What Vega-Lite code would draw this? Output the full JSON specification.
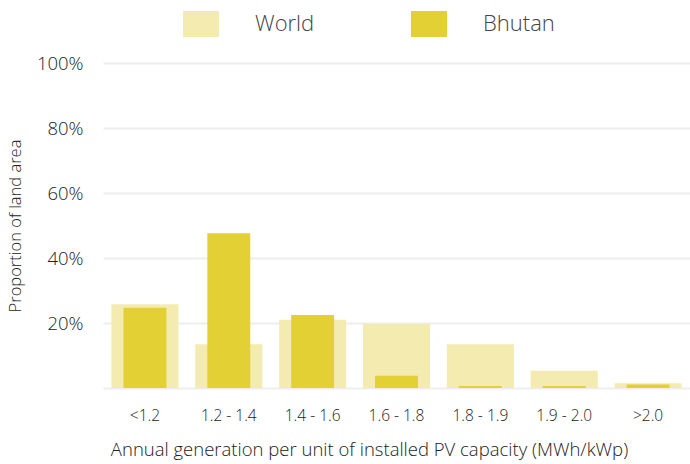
{
  "$schema": "https://vega.github.io/schema/vega-lite/v6.json",
  "autosize": "none",
  "width": 587,
  "height": 325,
  "padding": {"left": 103, "top": 63, "right": 0, "bottom": 76},
  "background": "white",
  "config": {
    "view": {"stroke": null},
    "font": "Open Sans",
    "axis": {"labelFont": "Open Sans", "titleFont": "Open Sans", "labelFontWeight": 300, "titleFontWeight": 300}
  },
  "data": {
    "values": [
      {"bin": "<1.2", "order": 1, "World": 25.8, "Bhutan": 24.7},
      {"bin": "1.2 - 1.4", "order": 2, "World": 13.5, "Bhutan": 47.6},
      {"bin": "1.4 - 1.6", "order": 3, "World": 21.0, "Bhutan": 22.5},
      {"bin": "1.6 - 1.8", "order": 4, "World": 19.8, "Bhutan": 3.8},
      {"bin": "1.8 - 1.9", "order": 5, "World": 13.5, "Bhutan": 0.6},
      {"bin": "1.9 - 2.0", "order": 6, "World": 5.3, "Bhutan": 0.6},
      {"bin": ">2.0", "order": 7, "World": 1.5, "Bhutan": 1.1}
    ]
  },
  "encoding": {
    "x": {
      "field": "bin", "type": "nominal", "sort": {"field": "order"},
      "scale": {"paddingInner": 0.2, "paddingOuter": 0.1},
      "axis": {
        "title": "Annual generation per unit of installed PV capacity (MWh/kWp)",
        "labelAngle": 0, "labelFontSize": 15.5, "labelColor": "#222", "labelPadding": 20,
        "titleFontSize": 18.5, "titleColor": "#222", "titlePadding": 17, "titleX": 266,
        "domain": false, "ticks": false, "grid": false
      }
    }
  },
  "layer": [
    {
      "mark": {"type": "bar", "width": {"band": 1}},
      "encoding": {
        "y": {
          "field": "World", "type": "quantitative",
          "scale": {"domain": [0, 100]},
          "axis": {
            "title": "Proportion of land area",
            "values": [0, 20, 40, 60, 80, 100],
            "labelExpr": "datum.value == 0 ? '' : datum.value + '%'",
            "labelFontSize": 18.5, "labelColor": "#222", "labelPadding": 20,
            "titleFontSize": 16.5, "titleColor": "#222", "titleX": -80,
            "domain": false, "ticks": false,
            "grid": true, "gridColor": "#eeeeee", "gridWidth": 2
          }
        },
        "color": {"datum": "World", "type": "nominal",
          "scale": {"domain": ["World", "Bhutan"], "range": ["#f3ebb0", "#e3d034"]},
          "legend": {
            "title": null, "orient": "none", "direction": "horizontal",
            "legendX": 80, "legendY": -57,
            "symbolType": "M-1,-0.722L1,-0.722L1,0.722L-1,0.722Z", "symbolSize": 1296, "symbolStrokeWidth": 0,
            "labelFontSize": 22, "labelColor": "#444", "labelFont": "Open Sans", "labelFontWeight": 300,
            "labelOffset": 36, "columnPadding": 96
          }
        }
      }
    },
    {
      "mark": {"type": "bar", "width": {"band": 0.64}},
      "encoding": {
        "y": {"field": "Bhutan", "type": "quantitative"},
        "color": {"datum": "Bhutan", "type": "nominal"}
      }
    }
  ]
}
